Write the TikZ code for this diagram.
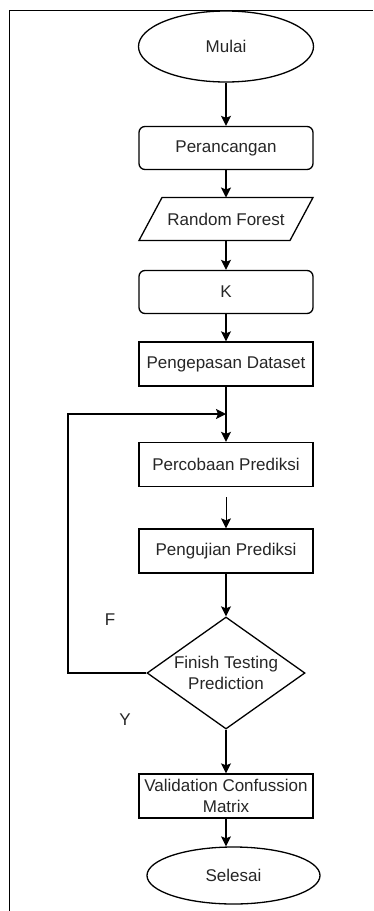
\documentclass[tikz,border=0pt]{standalone}
\usepackage{fontspec}
\setmainfont{Liberation Sans}
\usetikzlibrary{shapes.geometric,arrows.meta}
\tikzset{
  base/.style={draw=black, line width=1.3pt, text=black!85, font=\fontsize{17}{21}\selectfont, inner sep=0pt, align=center},
  oval/.style={base, ellipse},
  roundbox/.style={base, rectangle, rounded corners=6pt, minimum width=174pt, minimum height=43pt},
  sqbox/.style={base, rectangle, minimum width=174pt, minimum height=44pt},
  plain/.style={inner sep=0pt, font=\fontsize{17}{21}\selectfont, text=black!85, align=center},
  arr/.style={line width=1.3pt, -{Stealth[width=10pt,length=10pt,inset=2pt]}},
  ln/.style={line width=1.3pt}
}
\begin{document}
\begin{tikzpicture}[x=1pt,y=-1pt]
\useasboundingbox (0,0) rectangle (373,911);
\fill[white] (0,0) rectangle (373,911);
\draw[line width=1.5pt] (9.5,911) -- (9.5,10.5) -- (373,10.5);

\node[oval, minimum width=175pt, minimum height=71pt] (mulai) at (226,46.5) {Mulai};
\node[roundbox] (peran) at (226,148) {Perancangan};
% parallelogram
\node[plain, minimum width=150pt, minimum height=43pt] (rf) at (226,219) {Random Forest};
\draw[ln, line join=miter] (162,197.5) -- (313,197.5) -- (290,240.5) -- (139,240.5) -- cycle;
\node[roundbox] (k) at (226,292) {K};
\node[sqbox] (peng) at (226,364) {Pengepasan Dataset};
\node[sqbox] (perc) at (226,464.5) {Percobaan Prediksi};
\node[sqbox] (uji) at (226,551) {Pengujian Prediksi};
\node[base, diamond, minimum width=158pt, minimum height=112pt, aspect=1.41] (dec) at (226,673) {Finish Testing\\Prediction};
\node[sqbox] (val) at (226,796) {Validation Confussion\\Matrix};
\node[oval, minimum width=173pt, minimum height=57pt] (sel) at (233.5,875.5) {Selesai};

\coordinate (join) at (226,414);
\coordinate (gapstart) at (226,497);
\coordinate (lc1) at (68,673);
\coordinate (lc2) at (68,414);

\node[plain] (F) at (110,620) {F};
\node[plain] (Y) at (125,720) {Y};

\draw[arr] (mulai.south) -- (peran.north);
\draw[arr] (peran.south) -- (226,197.5);
\draw[arr] (226,240.5) -- (k.north);
\draw[arr] (k.south) -- (peng.north);
\draw[arr] (peng.south) -- (perc.north);
\draw[arr] (dec.west) -- (lc1) -- (lc2) -- (join);
\draw[arr, line width=1pt] (gapstart) -- (uji.north);
\draw[arr] (uji.south) -- (dec.north);
\draw[arr] (dec.south) -- (val.north);
\draw[arr] (val.south) -- (val.south |- sel.north);
\end{tikzpicture}
\end{document}
